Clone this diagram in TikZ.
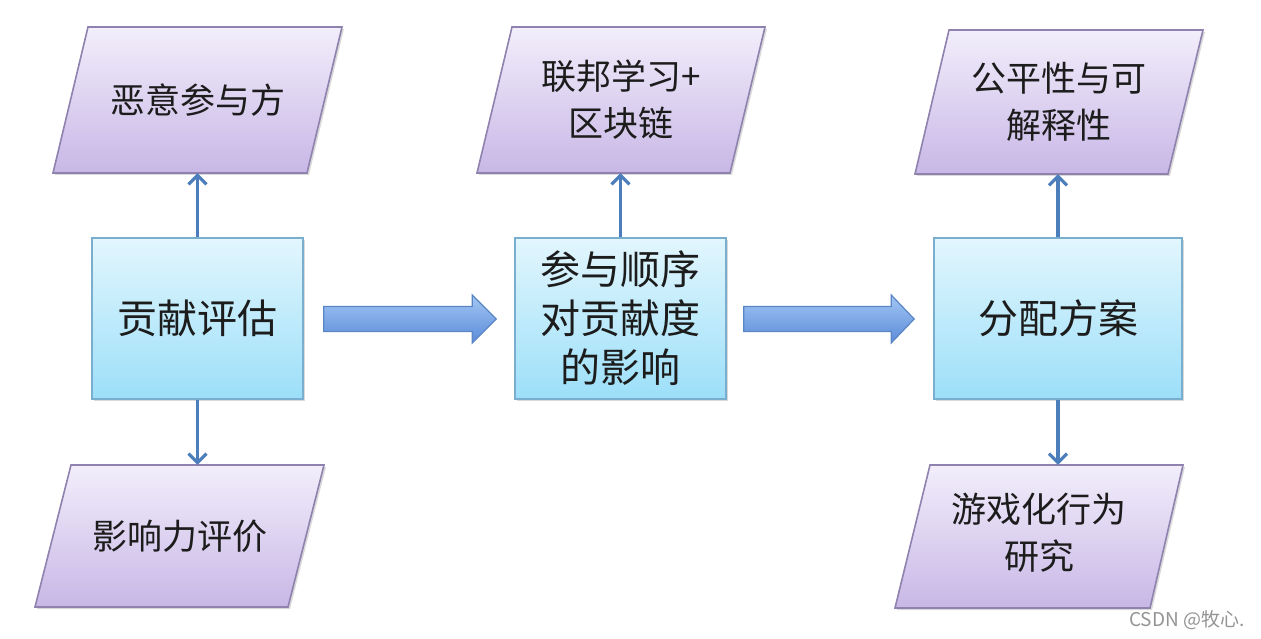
\documentclass[tikz,border=0pt]{standalone}
\usepackage{fontspec}
\newfontfamily\cjk{Noto Sans CJK SC}
\usetikzlibrary{calc,arrows.meta,shadows}
\definecolor{pgtop}{HTML}{F2EEFB}
\definecolor{pgbot}{HTML}{C8B7E6}
\definecolor{pgline}{HTML}{8F82AE}
\definecolor{bxtop}{HTML}{E2F6FD}
\definecolor{bxbot}{HTML}{9CDFF9}
\definecolor{bxline}{HTML}{79AECF}
\definecolor{artop}{HTML}{A3C7F3}
\definecolor{arbot}{HTML}{5A8BDA}
\definecolor{arline}{HTML}{5B86C6}
\definecolor{varc}{HTML}{4C7EBC}
\definecolor{txt}{HTML}{1C1C1C}
\begin{document}
\begin{tikzpicture}[x=1pt,y=-1pt,
  pgram/.style={draw=pgline, line width=1.6pt, top color=pgtop, bottom color=pgbot,
    drop shadow={shadow xshift=2pt,shadow yshift=-2pt,fill=black,opacity=0.15}},
  ptext/.style={inner sep=0pt, minimum width=10pt, align=center, text=txt,
    font=\cjk\fontsize{35}{47}\selectfont},
  boxstyle/.style={draw=bxline, line width=1.6pt, top color=bxtop, bottom color=bxbot,
    minimum height=161pt, inner sep=0pt, align=center, text=txt,
    font=\cjk\fontsize{40}{49}\selectfont,
    drop shadow={shadow xshift=2pt,shadow yshift=-2pt,fill=black,opacity=0.15}},
  barrow/.style={draw=arline, line width=1.2pt, top color=artop, bottom color=arbot},
  varrow/.style={draw=varc, line width=3.2pt, -{Straight Barb[length=9pt,width=18pt]}},
  wm/.style={text=black!42, font=\cjk\fontsize{19}{22}\selectfont, inner sep=0pt}
]
\useasboundingbox[fill=white] (0,0) rectangle (1261,639);

% parallelograms
\draw[pgram] (88,27) -- (342,27) -- (307,173) -- (53,173) -- cycle;
\draw[pgram] (512,27) -- (765,27) -- (730,173) -- (477,173) -- cycle;
\draw[pgram] (949,30) -- (1203,30) -- (1168,174) -- (915,174) -- cycle;
\draw[pgram] (71,465) -- (324,465) -- (288,607) -- (35,607) -- cycle;
\draw[pgram] (930,465) -- (1183,465) -- (1150,608) -- (895,608) -- cycle;

\node[ptext, minimum height=146pt] (p1) at (197.5,100) {\raisebox{-2pt}{恶意参与方}};
\node[ptext, minimum height=146pt] (p2) at (621,100) {联邦学习+\\区块链};
\node[ptext, minimum height=144pt] (p3) at (1059,102) {公平性与可\\解释性};
\node[ptext, minimum height=142pt] (p4) at (180,536) {影响力评价};
\node[ptext, minimum height=143pt] (p5) at (1039,536.5) {\raisebox{-8pt}{\begin{tabular}{@{}c@{}}游戏化行为\\研究\end{tabular}}};

% boxes
\node[boxstyle, minimum width=211pt] (b1) at (197.5,318.5) {贡献评估};
\node[boxstyle, minimum width=211pt] (b2) at (620.5,318.5) {参与顺序\\对贡献度\\的影响};
\node[boxstyle, minimum width=248pt] (b3) at (1058,318.5) {分配方案};

% vertical arrows
\draw[varrow] (b1.north) -- (b1.north |- p1.south);
\draw[varrow] (b1.south) -- (b1.south |- p4.north);
\draw[varrow] (b2.north) -- (b2.north |- p2.south);
\draw[varrow] (b3.north) -- (b3.north |- p3.south);
\draw[varrow] (b3.south) -- (b3.south |- p5.north);

% block arrows
\draw[barrow] let \p1=($(b1.east)+(20,0)$), \p2=($(b2.west)+(-18,0)$) in
  (\x1,\y1-0.5pt+12.5pt) -- (\x2-24pt,\y1-0.5pt+12.5pt) -- (\x2-24pt,\y1-0.5pt+24pt) -- (\x2,\y1-0.5pt)
  -- (\x2-24pt,\y1-0.5pt-24pt) -- (\x2-24pt,\y1-0.5pt-12.5pt) -- (\x1,\y1-0.5pt-12.5pt) -- cycle;
\draw[barrow] let \p1=($(b2.east)+(17,0)$), \p2=($(b3.west)+(-19,0)$) in
  (\x1,\y1-0.5pt+12.5pt) -- (\x2-23pt,\y1-0.5pt+12.5pt) -- (\x2-23pt,\y1-0.5pt+24pt) -- (\x2,\y1-0.5pt)
  -- (\x2-23pt,\y1-0.5pt-24pt) -- (\x2-23pt,\y1-0.5pt-12.5pt) -- (\x1,\y1-0.5pt-12.5pt) -- cycle;

% watermark
\node[wm, anchor=west] (wm) at (1129,620) {CSDN @牧心.};
\end{tikzpicture}
\end{document}
